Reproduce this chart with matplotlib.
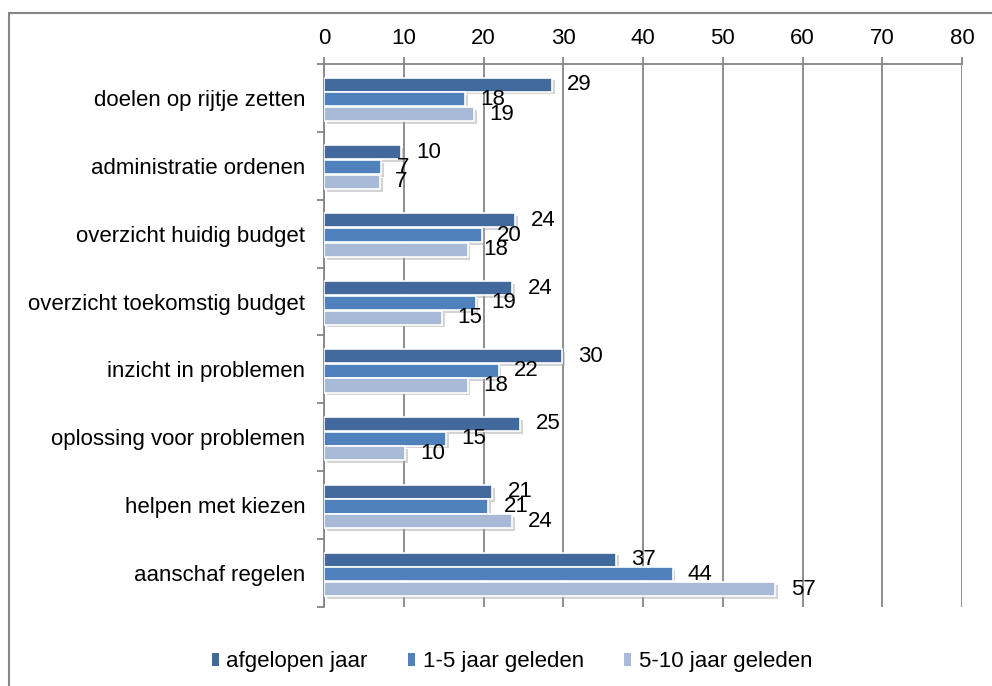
import numpy as np
import matplotlib
matplotlib.use("Agg")
import matplotlib.pyplot as plt
import matplotlib.patheffects as pe
from matplotlib.patches import Patch, Rectangle

plt.rcParams['font.family'] = ['Liberation Sans', 'DejaVu Sans']

# data, top to bottom
categories = [
    'doelen op rijtje zetten',
    'administratie ordenen',
    'overzicht huidig budget',
    'overzicht toekomstig budget',
    'inzicht in problemen',
    'oplossing voor problemen',
    'helpen met kiezen',
    'aanschaf regelen',
]
series_names = ['afgelopen jaar', '1-5 jaar geleden', '5-10 jaar geleden']
afgelopen = [28.6, 9.6, 24.0, 23.6, 29.9, 24.6, 21.1, 36.6]
jaar_1_5 = [17.7, 7.2, 19.8, 19.0, 21.9, 15.3, 20.6, 43.7]
jaar_5_10 = [18.8, 7.0, 18.0, 14.8, 18.0, 10.2, 23.6, 56.6]
colors = ['#41699C', '#4F81BD', '#A9B9D8']

FS = 16

fig = plt.figure(figsize=(9.92, 6.86), dpi=100)
ax = fig.add_axes([0.3266, 0.1152, 0.6432, 0.7915])

y = np.arange(len(categories))
h = 0.207
step = 0.217
shadow = [pe.SimplePatchShadow(offset=(2, -2), shadow_rgbFace='#aaaaaa', alpha=0.5), pe.Normal()]

for k, (vals, col) in enumerate(zip([afgelopen, jaar_1_5, jaar_5_10], colors)):
    bars = ax.barh(y + (k - 1) * step + 0.02, vals, height=h, color=col,
                   edgecolor='white', linewidth=1.2, zorder=3, label=series_names[k])
    for b in bars:
        b.set_path_effects(shadow)
    ax.bar_label(bars, labels=['%.0f' % v for v in vals], padding=11,
                 fontsize=FS, color='black', zorder=4)

ax.set_xlim(0, 80)
ax.set_ylim(len(categories) - 0.5, -0.5)
ax.set_xticks(np.arange(0, 81, 10))
ax.xaxis.tick_top()
ax.tick_params(axis='x', which='major', direction='out', length=5, width=1.3,
               color='#868686', labelsize=FS, pad=6)
ax.grid(axis='x', color='#868686', linewidth=1.3, zorder=0)

# categories between tick marks
ax.set_yticks(np.arange(len(categories) + 1) - 0.5)
ax.set_yticklabels([])
ax.set_yticks(y, minor=True)
ax.set_yticklabels(categories, minor=True, fontsize=FS)
ax.tick_params(axis='y', which='major', direction='out', length=5, width=1.3, color='#868686')
ax.tick_params(axis='y', which='minor', length=0, pad=13.5)

for s in ['right', 'bottom']:
    ax.spines[s].set_visible(False)
for s in ['top', 'left']:
    ax.spines[s].set_color('#868686')
    ax.spines[s].set_linewidth(1.3)

handles = [Patch(facecolor=c, edgecolor='none') for c in colors]
fig.legend(handles, series_names, loc='center', bbox_to_anchor=(0.516, 1 - 662 / 686),
           ncol=3, frameon=False, fontsize=FS, handlelength=0.32, handleheight=0.55,
           handletextpad=0.35, columnspacing=1.8)

# chart area border (cut off at right and bottom)
fig.patches.append(Rectangle((9 / 992, -0.2), 1.2, 1.2 + (686 - 13) / 686 - 1.0,
                             transform=fig.transFigure, fill=False,
                             edgecolor='#868686', linewidth=1.5))

fig.savefig('out.png', dpi=100)
